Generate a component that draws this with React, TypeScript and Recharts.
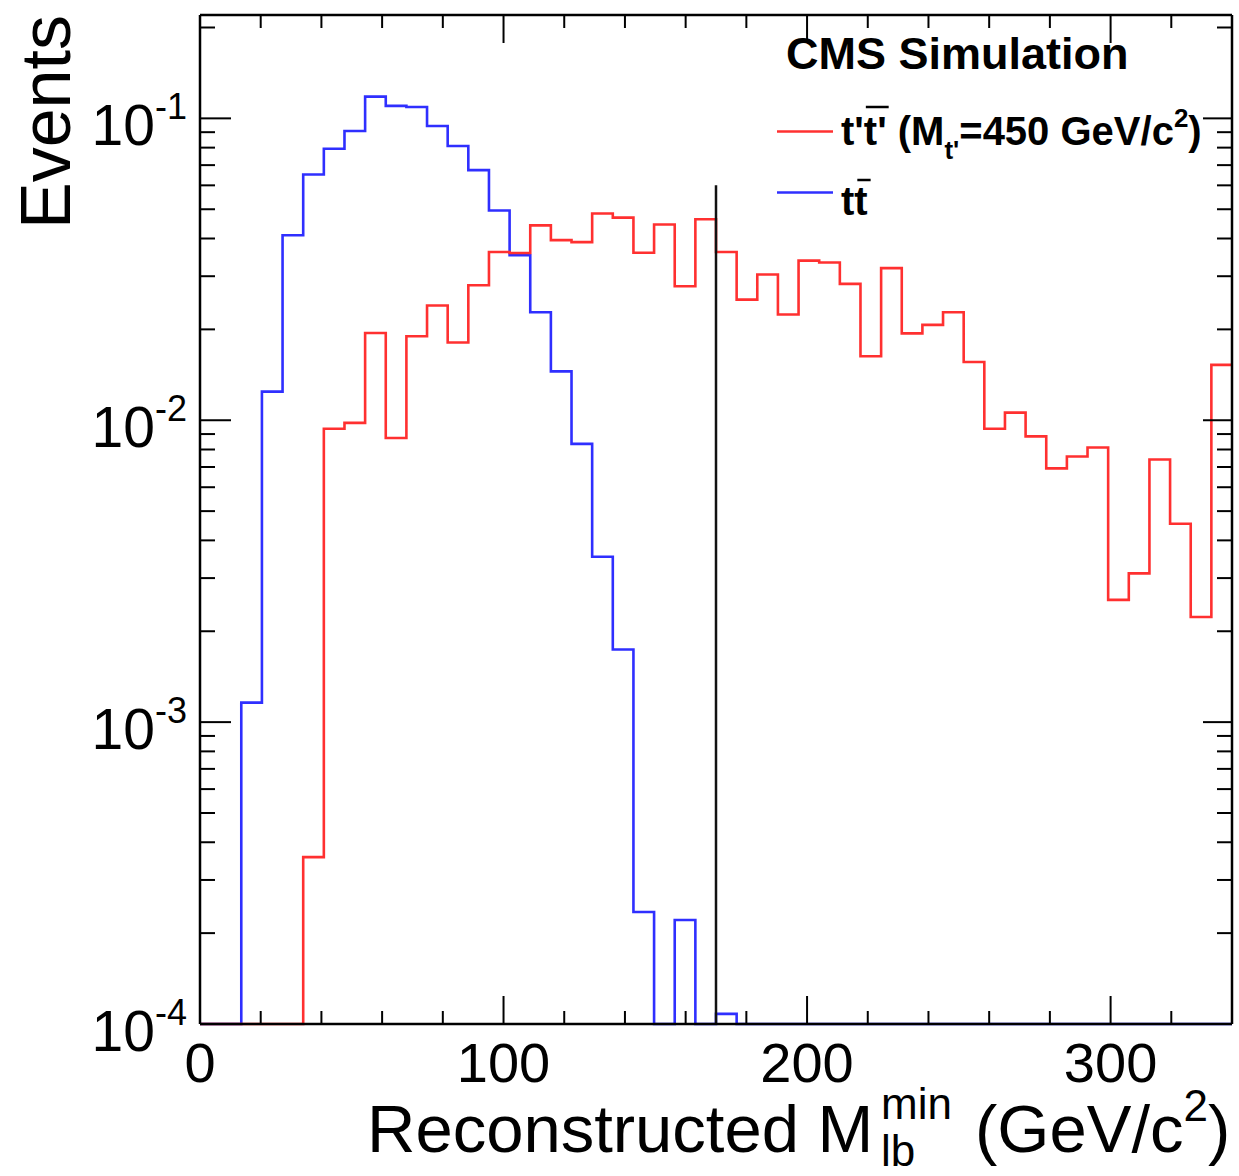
import React from 'react';
import { LineChart, Line, XAxis, YAxis, ReferenceLine, Legend } from 'recharts';

// Histogram bins: low edges (GeV/c^2), 50 bins of 6.8 up to 340
const BIN_LOW_EDGES = [
  0, 6.8, 13.6, 20.4, 27.2, 34, 40.8, 47.6, 54.4, 61.2,
  68, 74.8, 81.6, 88.4, 95.2, 102, 108.8, 115.6, 122.4, 129.2,
  136, 142.8, 149.6, 156.4, 163.2, 170, 176.8, 183.6, 190.4, 197.2,
  204, 210.8, 217.6, 224.4, 231.2, 238, 244.8, 251.6, 258.4, 265.2,
  272, 278.8, 285.6, 292.4, 299.2, 306, 312.8, 319.6, 326.4, 333.2,
];
const X_MAX = 340;

// t't' (M_t' = 450 GeV/c^2)
const TPRIME_450 = [
  0, 0, 0, 0, 0, 0.000357, 0.00937, 0.0098, 0.01946, 0.00873,
  0.01897, 0.024, 0.0181, 0.028, 0.0361, 0.0358, 0.0442, 0.0395, 0.0389, 0.0484,
  0.0469, 0.0359, 0.0445, 0.0278, 0.0463, 0.0361, 0.0251, 0.0304, 0.0224, 0.0338,
  0.0333, 0.0283, 0.0163, 0.0319, 0.0194, 0.0207, 0.0228, 0.0156, 0.00937, 0.0106,
  0.00884, 0.00693, 0.00758, 0.00812, 0.00254, 0.00311, 0.00741, 0.00454, 0.00223, 0.01525,
];

// tt
const TTBAR = [
  0, 0, 0.00116, 0.01244, 0.041, 0.0652, 0.0793, 0.0908, 0.118, 0.110,
  0.109, 0.0943, 0.081, 0.0674, 0.0495, 0.0352, 0.0228, 0.01452, 0.00835, 0.00353,
  0.00174, 0.000235, 0, 0.000221, 0, 0.000108, 0, 0, 0, 0,
  0, 0, 0, 0, 0, 0, 0, 0, 0, 0,
  0, 0, 0, 0, 0, 0, 0, 0, 0, 0,
];

const X_TICKS = [0, 20, 40, 60, 80, 100, 120, 140, 160, 180, 200, 220, 240, 260, 280, 300, 320, 340];
const Y_TICKS = [
  0.0001, 0.0002, 0.0003, 0.0004, 0.0005, 0.0006, 0.0007, 0.0008, 0.0009,
  0.001, 0.002, 0.003, 0.004, 0.005, 0.006, 0.007, 0.008, 0.009,
  0.01, 0.02, 0.03, 0.04, 0.05, 0.06, 0.07, 0.08, 0.09,
  0.1, 0.2,
];
const Y_DOMAIN: [number, number] = [0.0001, 0.22];
const CUT_VALUE = 170;
const CUT_TOP = 0.06;

const FONT = '"Liberation Sans", Arial, Helvetica, sans-serif';
const RED = '#ff3030';
const BLUE = '#2f2fff';

const rows = [...BIN_LOW_EDGES, X_MAX].map((x, i) => {
  const k = Math.min(i, BIN_LOW_EDGES.length - 1);
  return {
    x,
    tprime: Math.max(TPRIME_450[k], Y_DOMAIN[0]),
    ttbar: Math.max(TTBAR[k], Y_DOMAIN[0]),
  };
});

const isDecade = (v: number) => Math.abs(Math.log10(v) - Math.round(Math.log10(v))) < 1e-6;
const isMajorX = (v: number) => v % 100 === 0;

const BottomTick = (props: any) => {
  const { x, y, payload } = props;
  const v = payload.value;
  const major = isMajorX(v);
  return (
    <g>
      <line x1={x} x2={x} y1={y} y2={y - (major ? 28 : 13)} stroke="#000" strokeWidth={2} />
      {major && (
        <text x={x} y={y + 58} textAnchor="middle" fontFamily={FONT} fontSize={56} fill="#000">
          {v}
        </text>
      )}
    </g>
  );
};

const TopTick = (props: any) => {
  const { x, y, payload } = props;
  const major = isMajorX(payload.value);
  return <line x1={x} x2={x} y1={y} y2={y + (major ? 28 : 13)} stroke="#000" strokeWidth={2} />;
};

const LeftTick = (props: any) => {
  const { x, y, payload } = props;
  const v = payload.value;
  const major = isDecade(v);
  const exp = Math.round(Math.log10(v));
  return (
    <g>
      <line x1={x} x2={x + (major ? 31 : 15)} y1={y} y2={y} stroke="#000" strokeWidth={2} />
      {major && (
        <text x={x - 13} y={y + 27} textAnchor="end" fontFamily={FONT} fill="#000">
          <tspan fontSize={57}>10</tspan>
          <tspan fontSize={36} dy={-26}>{exp}</tspan>
        </text>
      )}
    </g>
  );
};

const RightTick = (props: any) => {
  const { x, y, payload } = props;
  const major = isDecade(payload.value);
  return <line x1={x} x2={x - (major ? 29 : 15)} y1={y} y2={y} stroke="#000" strokeWidth={2} />;
};

const XTitle = (props: any) => {
  const vb = props.viewBox || { x: 200, y: 1024, width: 1032, height: 152 };
  const x0 = vb.x;
  const y0 = vb.y;
  return (
    <g fontFamily={FONT} fill="#000">
      <text x={x0 + 167} y={y0 + 128} fontSize={67}>Reconstructed M</text>
      <text x={x0 + 681} y={y0 + 95} fontSize={44}>min</text>
      <text x={x0 + 681} y={y0 + 142} fontSize={44}>lb</text>
      <text x={x0 + 775} y={y0 + 128} fontSize={67}>
        (GeV/c<tspan fontSize={44} dy={-31}>2</tspan>
        <tspan dy={31}>)</tspan>
      </text>
    </g>
  );
};

const YTitle = (props: any) => {
  const vb = props.viewBox || { x: 0, y: 15 };
  return (
    <text
      transform={`translate(${vb.x + 70}, ${vb.y}) rotate(-90)`}
      textAnchor="end"
      fontFamily={FONT}
      fontSize={70}
      fill="#000"
    >
      Events
    </text>
  );
};

const LEG_FS = 40;
const T_W = 0.333 * LEG_FS;
const PRIME_W = 0.238 * LEG_FS;

const LegendBox = (props: any) => {
  const payload: any[] = props.payload || [];
  const colorOf = (key: string, fallback: string) => {
    const e = payload.find((p) => p.dataKey === key);
    return (e && e.color) || fallback;
  };
  const red = colorOf('tprime', RED);
  const blue = colorOf('ttbar', BLUE);
  const tx = 81;
  const ob1 = tx + T_W + PRIME_W + 2;
  const ob2 = tx + T_W + 3;
  return (
    <svg width={470} height={220} style={{ overflow: 'visible', display: 'block' }}>
      <g fontFamily={FONT} fill="#000" fontWeight="bold">
        <text x={26} y={49} fontSize={45}>CMS Simulation</text>
        <line x1={17} x2={73} y1={111.5} y2={111.5} stroke={red} strokeWidth={2.5} />
        <text x={tx} y={125} fontSize={LEG_FS}>
          t't' (M<tspan fontSize={26} dy={14}>t'</tspan>
          <tspan dy={-14}>=450 GeV/c</tspan>
          <tspan fontSize={26} dy={-18}>2</tspan>
          <tspan dy={18}>)</tspan>
        </text>
        <line x1={ob1} x2={ob1 + T_W + PRIME_W} y1={87} y2={87} stroke="#000" strokeWidth={2.5} />
        <line x1={17} x2={73} y1={172.5} y2={172.5} stroke={blue} strokeWidth={2.5} />
        <text x={tx} y={195} fontSize={LEG_FS}>tt</text>
        <line x1={ob2} x2={ob2 + T_W} y1={160} y2={160} stroke="#000" strokeWidth={2.5} />
      </g>
    </svg>
  );
};

export default function App() {
  return (
    <div style={{ position: 'absolute', left: 0, top: 0, width: 1239, height: 1176, background: '#fff' }}>
      <LineChart
        width={1239}
        height={1176}
        data={rows}
        margin={{ top: 14, right: 6, bottom: 0, left: 0 }}
      >
        <XAxis
          dataKey="x"
          type="number"
          domain={[0, X_MAX]}
          ticks={X_TICKS}
          interval={0}
          height={152}
          tickSize={0}
          tickMargin={0}
          tick={<BottomTick />}
          axisLine={{ stroke: '#000', strokeWidth: 2.5 }}
          label={(p: any) => <XTitle {...p} />}
        />
        <XAxis
          xAxisId="top"
          orientation="top"
          dataKey="x"
          type="number"
          domain={[0, X_MAX]}
          ticks={X_TICKS}
          interval={0}
          height={1}
          tickSize={0}
          tickMargin={0}
          tick={<TopTick />}
          axisLine={{ stroke: '#000', strokeWidth: 2.5 }}
        />
        <YAxis
          type="number"
          scale="log"
          domain={Y_DOMAIN}
          ticks={Y_TICKS}
          interval={0}
          width={200}
          tickSize={0}
          tickMargin={0}
          tick={<LeftTick />}
          axisLine={{ stroke: '#000', strokeWidth: 2.5 }}
          label={(p: any) => <YTitle {...p} />}
        />
        <YAxis
          yAxisId="right"
          orientation="right"
          type="number"
          scale="log"
          domain={Y_DOMAIN}
          ticks={Y_TICKS}
          interval={0}
          width={1}
          tickSize={0}
          tickMargin={0}
          tick={<RightTick />}
          axisLine={{ stroke: '#000', strokeWidth: 2.5 }}
        />
        <Line
          type="stepAfter"
          dataKey="ttbar"
          name="tt"
          stroke={BLUE}
          strokeWidth={2.6}
          dot={false}
          activeDot={false}
          isAnimationActive={false}
        />
        <Line
          xAxisId="top"
          yAxisId="right"
          type="stepAfter"
          dataKey="tprime"
          name="t't' (M_t'=450 GeV/c2)"
          stroke={RED}
          strokeWidth={2.6}
          dot={false}
          activeDot={false}
          isAnimationActive={false}
        />
        <ReferenceLine
          segment={[
            { x: CUT_VALUE, y: Y_DOMAIN[0] },
            { x: CUT_VALUE, y: CUT_TOP },
          ]}
          stroke="#111"
          strokeWidth={2.5}
        />
        <Legend
          layout="vertical"
          align="center"
          verticalAlign="middle"
          content={(p: any) => <LegendBox {...p} />}
          wrapperStyle={{ left: 760, top: 20, width: 470, height: 220 }}
        />
      </LineChart>
    </div>
  );
}
